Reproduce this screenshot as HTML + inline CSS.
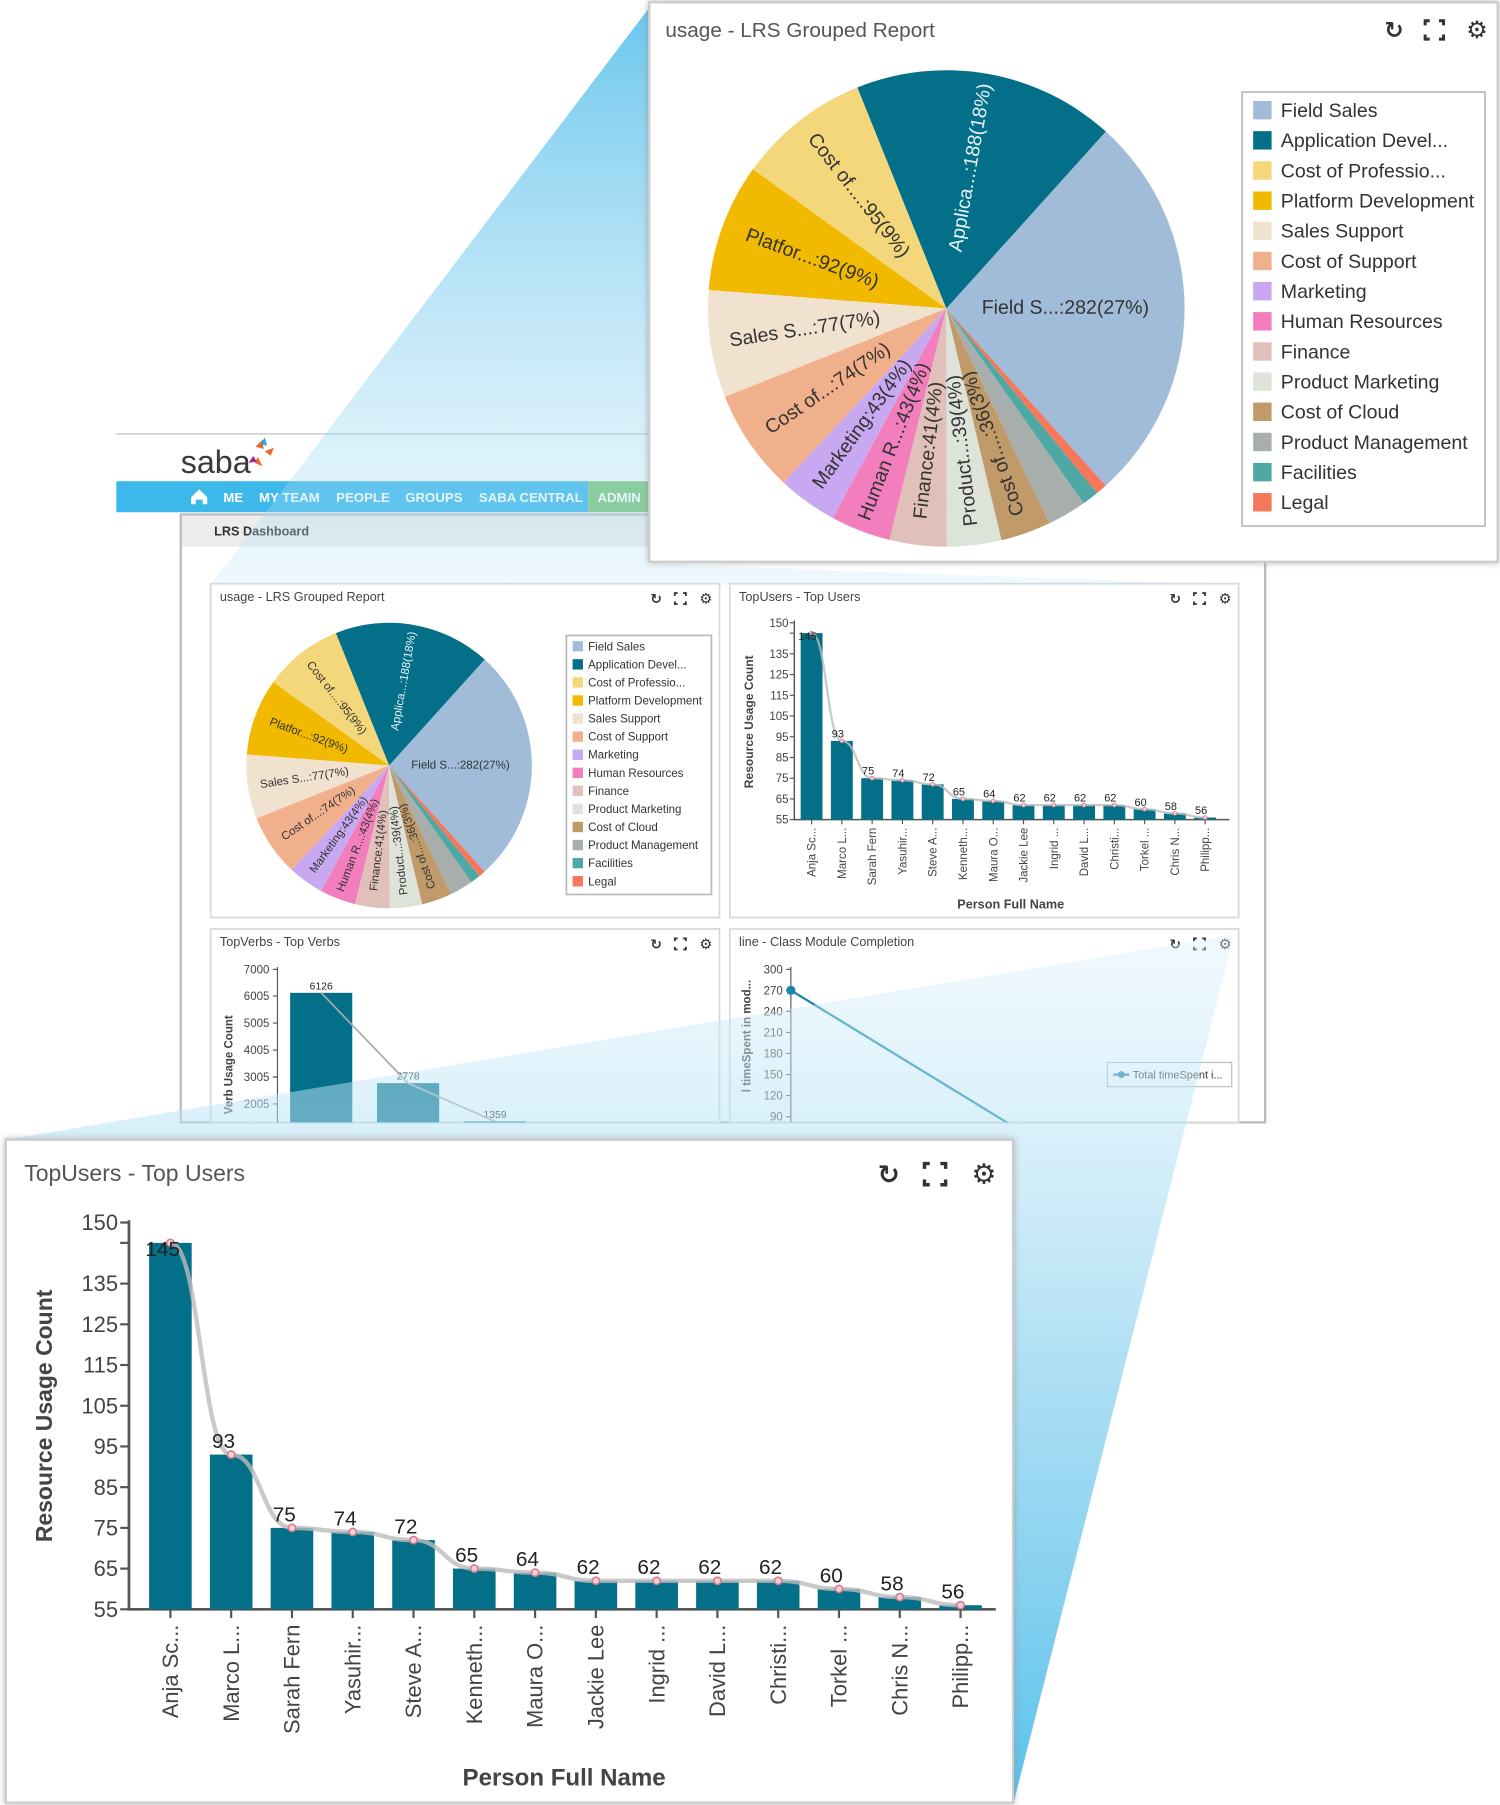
<!DOCTYPE html>
<html><head><meta charset="utf-8">
<style>
html,body{margin:0;padding:0;background:#fff;}
svg{display:block;font-family:"Liberation Sans",sans-serif;}
</style></head>
<body>
<svg id="root" width="1500" height="1805" viewBox="0 0 1303 1568" xmlns="http://www.w3.org/2000/svg">
<defs>
<linearGradient id="rayTop" x1="0" y1="0" x2="0" y2="1">
<stop offset="0" stop-color="#2fb0e6" stop-opacity="0.95"/>
<stop offset="1" stop-color="#bfe6f7" stop-opacity="0.35"/>
</linearGradient>
<linearGradient id="rayBot" x1="0" y1="0" x2="0" y2="1">
<stop offset="0" stop-color="#d9f0fa" stop-opacity="0.45"/>
<stop offset="0.5" stop-color="#8fd3f0" stop-opacity="0.85"/>
<stop offset="1" stop-color="#3cb6e8" stop-opacity="1"/>
</linearGradient>
<clipPath id="clipLower"><rect x="157" y="807" width="942" height="168"/></clipPath>
<filter id="shadow" x="-5%" y="-5%" width="110%" height="110%"><feDropShadow dx="0" dy="0" stdDeviation="3" flood-color="#888" flood-opacity="0.6"/></filter>
</defs>
<g id="layer"></g>
</svg>
<script>
// ---------- data ----------
const pieNames = ["Field Sales","Application Devel...","Cost of Professio...","Platform Development","Sales Support","Cost of Support","Marketing","Human Resources","Finance","Product Marketing","Cost of Cloud","Product Management","Facilities","Legal"];
const pieShort = ["Field S...","Applica...","Cost of....","Platfor...","Sales S...","Cost of...","Marketing","Human R...","Finance","Product...","Cost of....","Product...","Facilities","Legal"];
const pieValues = [282,188,95,92,77,74,43,43,41,39,36,28,12,8];
const pieColors = ["#a0bcd8","#046f89","#f3d77a","#f1b900","#f1e1cf","#f1b08c","#c8a8f0","#f27ebd","#e0c0b8","#dde3d8","#c09a68","#a8aeac","#4ea8a4","#f7775a"];
const userNames = ["Anja Sc...","Marco L...","Sarah Fern","Yasuhir...","Steve A...","Kenneth...","Maura O...","Jackie Lee","Ingrid ...","David L...","Christi...","Torkel ...","Chris N...","Philipp..."];
const userValues = [145,93,75,74,72,65,64,62,62,62,62,60,58,56];
const userTicks = [55,65,75,85,95,105,115,125,135,150];
const verbValues = [6126,2778,1359];
const verbTicks = [2005,3005,4005,5005,6005,7000];
const lineValues = [270,0];
const lineTicks = [90,120,150,180,210,240,270,300];

const NS="http://www.w3.org/2000/svg";
const layer=document.getElementById('layer');
function el(tag,attrs,parent,text){const e=document.createElementNS(NS,tag);for(const k in attrs)e.setAttribute(k,attrs[k]);if(text!==undefined)e.textContent=text;(parent||layer).appendChild(e);return e;}

function icons(parent,x,y,s){
  const r=el('text',{x:x,y:y+7*s,'font-size':20*s,'font-family':'DejaVu Sans,sans-serif',fill:'#333','text-anchor':'middle','font-weight':'bold'},parent,'↻');
  
  
  const fx=x+35*s,d=8*s,l=4*s;
  const f=el('path',{d:`M${fx-d} ${y-d+l}V${y-d}H${fx-d+l}M${fx+d-l} ${y-d}H${fx+d}V${y-d+l}M${fx+d} ${y+d-l}V${y+d}H${fx+d-l}M${fx-d+l} ${y+d}H${fx-d}V${y+d-l}`,fill:'none',stroke:'#333','stroke-width':2.6*s},parent);
  
  
  const g=el('text',{x:x+72*s,y:y+7*s,'font-size':21*s,'font-family':'DejaVu Sans,sans-serif',fill:'#333','text-anchor':'middle'},parent,'⚙');
  
  
}

function drawPie(parent,cx,cy,r,fs){
  const total=pieValues.reduce((a,b)=>a+b,0);
  let end=138;
  pieValues.forEach((v,i)=>{
    const sweep=v/total*360, start=end-sweep;
    const a0=start*Math.PI/180,a1=end*Math.PI/180;
    const x0=cx+r*Math.sin(a0),y0=cy-r*Math.cos(a0),x1=cx+r*Math.sin(a1),y1=cy-r*Math.cos(a1);
    const p=el('path',{d:`M${cx} ${cy}L${x0} ${y0}A${r} ${r} 0 ${sweep>180?1:0} 1 ${x1} ${y1}Z`,fill:pieColors[i]},parent);
    
    
    const pct=Math.round(v/total*100);
    if(v/total>=0.03){
      const m=(start+end)/2, mr=m*Math.PI/180, f=i===0?0.5:0.6;
      const tx=cx+r*f*Math.sin(mr),ty=cy-r*f*Math.cos(mr);
      let th=m-90; if(th>90)th-=180; if(th<-90)th+=180;
      const t=el('text',{x:tx,y:ty,'font-size':fs,'text-anchor':'middle','dominant-baseline':'middle',fill:i===1?'#e8f2f5':'#333',transform:`rotate(${th} ${tx} ${ty})`},parent,pieShort[i]+':'+v+'('+pct+'%)');
      
      
    }
    end=start;
  });
}

function drawLegend(parent,x,y,w,h,sq,step,fs){
  const b=el('rect',{x:x,y:y,width:w,height:h,fill:'#fff',stroke:'#bbb','stroke-width':1.5},parent);
  
  
  pieNames.forEach((n,i)=>{
    const yy=y+step*0.6+i*step;
    const s=el('rect',{x:x+sq*0.6,y:yy-sq/2,width:sq,height:sq,fill:pieColors[i]},parent);
    
    
    const t=el('text',{x:x+sq*2.1,y:yy+fs*0.35,'font-size':fs,fill:'#333'},parent,n);
    
    
  });
}

function drawUsers(parent,o){
  const ys=v=>o.bottom-(v-55)*(o.bottom-o.top)/95;
  const xs=i=>o.x0+i*o.step;
  const ax=el('path',{d:`M${o.left} ${o.top-2}V${o.bottom}H${o.right}`,fill:'none',stroke:'#555','stroke-width':o.fs/8},parent);
  
  
  userTicks.concat([145]).forEach(t=>{
    el('line',{x1:o.left-o.fs*0.4,x2:o.left,y1:ys(t),y2:ys(t),stroke:'#555','stroke-width':o.fs/10},parent);
    if(t!==145){const tl=el('text',{x:o.left-o.fs*0.5,y:ys(t)+o.fs*0.35,'font-size':o.fs,'text-anchor':'end',fill:'#444'},parent,t);
    
    }
  });
  userValues.forEach((v,i)=>{
    const b=el('rect',{x:xs(i)-o.bw/2,y:ys(v),width:o.bw,height:o.bottom-ys(v),fill:'#046f89'},parent);
    
    
  });
  let d='';
  userValues.forEach((v,i)=>{
    const x=xs(i),y=ys(v);
    if(i===0)d=`M${x} ${y}`;else{const px=xs(i-1),py=ys(userValues[i-1]);const mx=(px+x)/2;d+=`C${mx} ${py} ${mx} ${y} ${x} ${y}`;}
  });
  const ln=el('path',{d:d,fill:'none',stroke:'#bbb','stroke-width':o.fs/5,opacity:0.8},parent);
  
  
  userValues.forEach((v,i)=>{
    const x=xs(i),y=ys(v);
    const c=el('circle',{cx:x,cy:y,r:o.fs/6,fill:'#f3d0d8',stroke:'#d47a8c','stroke-width':o.fs/14},parent);
    
    
    const t=el('text',{x:x-o.fs*0.35,y:y-o.fs*0.3+(i===0?o.fs*0.9:0),'font-size':o.fs*0.95,'text-anchor':'middle',fill:'#222'},parent,v);
    
    
    el('line',{x1:x,x2:x,y1:o.bottom,y2:o.bottom+o.fs*0.4,stroke:'#555','stroke-width':o.fs/10},parent);
    const xl=el('text',{x:x+o.fs*0.35,y:o.bottom+o.fs*0.7,'font-size':o.fs,'text-anchor':'end',fill:'#444',transform:`rotate(-90 ${x+o.fs*0.35} ${o.bottom+o.fs*0.7})`},parent,userNames[i]);
    
    
  });
  const xt=el('text',{x:o.xtx,y:o.xty,'font-size':o.fs*1.1,'font-weight':'bold','text-anchor':'middle',fill:'#444'},parent,'Person Full Name');
  
  
  const yt=el('text',{x:o.ytx,y:o.yty,'font-size':o.fs*1.05,'font-weight':'bold','text-anchor':'middle',fill:'#444',transform:`rotate(-90 ${o.ytx} ${o.yty})`},parent,'Resource Usage Count');
  
  
}

function panel(x,y,w,h,title,fs,name){
  const g=el('g',{});
  
  
  el('rect',{x:x,y:y,width:w,height:h,fill:'#fff',stroke:'#d8d8d8','stroke-width':1.5},g);
  const t=el('text',{x:x+8,y:y+fs+4,'font-size':fs,fill:'#444'},g,title);
  
  
  return g;
}

// ---------- background dashboard ----------
const hdr=el('g',{});


el('line',{x1:101,y1:377,x2:563,y2:377,stroke:'#bbb'},hdr);
const logo=el('text',{x:157,y:411,'font-size':28,fill:'#3a3a3a'},hdr,'saba');


el('path',{d:'M222 388l6-6 1 8zM230 392l8-3-3 7zM224 397l4 8-7-3z',fill:'#e86a2a'},hdr);
el('path',{d:'M226 386l4-6 2 7z',fill:'#2aa8d8'},hdr);
el('path',{d:'M220 396l-4 6 7-1z',fill:'#9b2a8a'},hdr);
el('rect',{x:101,y:418,width:410,height:27,fill:'#3db8ea'},hdr);
el('rect',{x:511,y:418,width:52,height:27,fill:'#7cc576'},hdr);
el('path',{d:'M166 432l7-7 7 7v6h-4v-4h-6v4h-4z',fill:'#fff'},hdr);
[["ME",194],["MY TEAM",225],["PEOPLE",292],["GROUPS",352],["SABA CENTRAL",416],["ADMIN",519]].forEach(n=>{
  const t=el('text',{x:n[1],y:436,'font-size':11.5,'font-weight':'bold',fill:'#fff'},hdr,n[0]);
  
  
});
const dash=el('g',{});


el('rect',{x:157,y:447,width:942,height:528,fill:'#fff',stroke:'#bbb','stroke-width':2},dash);
el('rect',{x:158,y:448,width:940,height:27,fill:'#ececec'},dash);
el('text',{x:186,y:465,'font-size':11,'font-weight':'bold',fill:'#333'},dash,'LRS Dashboard');

// small pie panel
const p1=panel(183,507,442,290,'usage - LRS Grouped Report',11,'small-pie-panel');
icons(p1,570,520,0.6);
drawPie(p1,338,665,124,10);
drawLegend(p1,492,552,126,225,9,15.7,10);

// small top users panel
const p2=panel(634,507,442,290,'TopUsers - Top Users',11,'small-topusers-panel');
icons(p2,1021,520,0.6);
drawUsers(p2,{left:690,right:1068,top:541,bottom:712,x0:705,step:26.3,bw:19,fs:10,xtx:878,xty:789,ytx:654,yty:627});

// top verbs panel
const p3=panel(183,807,442,168,'TopVerbs - Top Verbs',11,'topverbs-panel');
icons(p3,570,820,0.6);
const gv=el('g',{'clip-path':'url(#clipLower)'},p3);
const vy=v=>959-(v-2005)*117/4995;
const vx=i=>279+i*75.5;
el('path',{d:'M241 840V1000',stroke:'#555',fill:'none'},gv);
verbTicks.forEach(t=>{el('line',{x1:237,x2:241,y1:vy(t),y2:vy(t),stroke:'#555'},gv);
  const tl=el('text',{x:234,y:vy(t)+3.5,'font-size':10,'text-anchor':'end',fill:'#444'},gv,t);
  
  });
verbValues.forEach((v,i)=>{const b=el('rect',{x:vx(i)-27,y:vy(v),width:54,height:200,fill:'#046f89'},gv);
  
  
  const t=el('text',{x:vx(i)-10,y:vy(v)-3,'font-size':9,fill:'#222'},gv,v);
  
  });
let vd='';verbValues.forEach((v,i)=>{vd+=(i?'L':'M')+vx(i)+' '+vy(v);});
el('path',{d:vd,fill:'none',stroke:'#aaa','stroke-width':1.5},gv);
const vyt=el('text',{x:202,y:925,'font-size':10,'font-weight':'bold',fill:'#444','text-anchor':'middle',transform:'rotate(-90 202 925)'},gv,'Verb Usage Count');



// line chart panel
const p4=panel(634,807,442,168,'line - Class Module Completion',11,'line-chart-panel');
icons(p4,1021,820,0.6);
const gl=el('g',{'clip-path':'url(#clipLower)'},p4);
const ly=v=>970-(v-90)*128/210;
const lx=i=>687+i*269;
el('path',{d:'M687 840V1000',stroke:'#555',fill:'none'},gl);
lineTicks.forEach(t=>{el('line',{x1:683,x2:687,y1:ly(t),y2:ly(t),stroke:'#555'},gl);
  const tl=el('text',{x:680,y:ly(t)+3.5,'font-size':10,'text-anchor':'end',fill:'#444'},gl,t);
  
  });
let ld='';lineValues.forEach((v,i)=>{ld+=(i?'L':'M')+lx(i)+' '+ly(v);});
const lp=el('path',{d:ld,fill:'none',stroke:'#1a86a8','stroke-width':2},gl);


el('circle',{cx:lx(0),cy:ly(lineValues[0]),r:4,fill:'#1a86a8'},gl);
const lyt=el('text',{x:652,y:900,'font-size':10,'font-weight':'bold',fill:'#444','text-anchor':'middle',transform:'rotate(-90 652 900)'},gl,'l timeSpent in mod...');


const lg=el('g',{},p4);


el('rect',{x:962,y:923,width:108,height:21,fill:'#fff',stroke:'#bbb'},lg);
el('line',{x1:967,x2:981,y1:933.5,y2:933.5,stroke:'#1a86a8','stroke-width':2},lg);
el('circle',{cx:974,cy:933.5,r:3,fill:'#1a86a8'},lg);
el('text',{x:984,y:937,'font-size':9.5,fill:'#333'},lg,'Total timeSpent i...');

// ---------- rays ----------
const r1=el('polygon',{points:'563,8 563,490 1076,508 183,508',fill:'url(#rayTop)',opacity:0.75});


const r2=el('polygon',{points:'1072,812 5,990 880,990 880,1568',fill:'url(#rayBot)',opacity:0.85});



// ---------- zoomed top pie panel ----------
const zp=el('g',{});


el('rect',{x:564,y:2,width:737,height:486,fill:'#fff',stroke:'#ccc','stroke-width':2,filter:'url(#shadow)'},zp);
const zt=el('text',{x:578,y:32,'font-size':18,fill:'#555'},zp,'usage - LRS Grouped Report');


icons(zp,1211,26,1);
drawPie(zp,822,268,207,17);
drawLegend(zp,1079,80,211,377,16,26.2,17);

// ---------- zoomed bottom bar panel ----------
const zb=el('g',{});


el('rect',{x:5,y:990,width:875,height:576,fill:'#fff',stroke:'#ccc','stroke-width':2,filter:'url(#shadow)'},zb);
const bt=el('text',{x:21,y:1026,'font-size':20,fill:'#555'},zb,'TopUsers - Top Users');


icons(zb,772,1020,1.15);
drawUsers(zb,{left:112,right:865,top:1062,bottom:1398,x0:148,step:52.8,bw:37,fs:19,xtx:490,xty:1551,ytx:45,yty:1230});
</script>
</body></html>
